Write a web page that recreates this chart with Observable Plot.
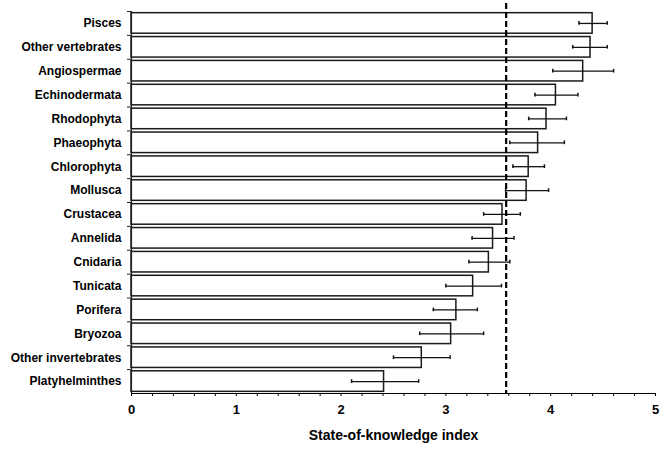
<!DOCTYPE html>
<html>
<head>
<meta charset="utf-8">
<script src="https://cdn.jsdelivr.net/npm/d3@7"></script>
<script src="https://cdn.jsdelivr.net/npm/@observablehq/plot@0.6"></script>
<style>
  html, body { margin: 0; padding: 0; background: #fff; }
  #chart { width: 662px; height: 450px; }
</style>
</head>
<body>
<div id="chart"></div>
<script>
const taxa = ["Pisces", "Other vertebrates", "Angiospermae", "Echinodermata", "Rhodophyta", "Phaeophyta", "Chlorophyta", "Mollusca", "Crustacea", "Annelida", "Cnidaria", "Tunicata", "Porifera", "Bryozoa", "Other invertebrates", "Platyhelminthes"];
const indexValue = [4.40, 4.38, 4.31, 4.05, 3.96, 3.88, 3.79, 3.77, 3.54, 3.45, 3.41, 3.26, 3.10, 3.05, 2.77, 2.41];
const lowerErr = [4.27, 4.21, 4.02, 3.85, 3.79, 3.61, 3.64, 3.57, 3.36, 3.25, 3.22, 3.00, 2.88, 2.75, 2.50, 2.10];
const upperErr = [4.54, 4.54, 4.60, 4.26, 4.15, 4.13, 3.94, 3.98, 3.71, 3.65, 3.61, 3.53, 3.30, 3.36, 3.04, 2.74];
const xTicks = [0, 0.2, 0.4, 0.6, 0.8, 1, 1.2, 1.4, 1.6, 1.8, 2, 2.2, 2.4, 2.6, 2.8, 3, 3.2, 3.4, 3.6, 3.8, 4, 4.2, 4.4, 4.6, 4.8, 5];
const meanIndex = [3.575];
const xTitle = "State-of-knowledge index";

const data = taxa.map((t, i) => ({taxon: t, value: indexValue[i], lo: lowerErr[i], hi: upperErr[i]}));

const W = 662, H = 450, mT = 11, mB = 57, mL = 131, mR = 7;
const step = (H - mT - mB) / taxa.length;
const capInset = (step - 7) / 2;

const chart = Plot.plot({
  width: W,
  height: H,
  marginTop: mT,
  marginBottom: mB,
  marginLeft: mL,
  marginRight: mR,
  style: {fontFamily: "'Liberation Sans', Arial, sans-serif", fontSize: "12px", fontWeight: "bold", color: "#000", background: "#fff"},
  x: {domain: [0, 5], ticks: xTicks, tickSize: 3, tickPadding: 8, line: true,
      tickFormat: d => Number.isInteger(d) ? String(d) : "", label: null},
  y: {domain: taxa, paddingInner: 0.14, paddingOuter: 0.07, round: false, tickSize: 0, tickPadding: 10, label: null},
  marks: [
    Plot.barX(data, {y: "taxon", x: "value", fill: "white", stroke: "#1a1a1a", strokeWidth: 1.5}),
    Plot.ruleY(data, {y: "taxon", x1: "lo", x2: "hi", stroke: "#111", strokeWidth: 1.3}),
    Plot.tickX(data, {y: "taxon", x: "lo", stroke: "#111", strokeWidth: 1.5, insetTop: capInset, insetBottom: capInset}),
    Plot.tickX(data, {y: "taxon", x: "hi", stroke: "#111", strokeWidth: 1.5, insetTop: capInset, insetBottom: capInset}),
    Plot.ruleX(meanIndex, {stroke: "#000", strokeWidth: 2.2, strokeDasharray: "6,3", insetTop: -8}),
    Plot.ruleX([0], {stroke: "#222", strokeWidth: 1.2}),
    Plot.tickY(taxa, {y: d => d, dy: -step / 2, dx: -4, stroke: "#222", strokeWidth: 1, insetRight: W - mL - mR - 4}),
    Plot.text([xTitle], {frameAnchor: "bottom", dy: 46, fontSize: 14, fontWeight: "bold", fill: "#000"})
  ]
});
d3.select(chart).selectAll('g[aria-label="x-axis tick label"] text, g[aria-label="x-axis"] text').attr("font-size", "13px");
document.getElementById("chart").appendChild(chart);
</script>
</body>
</html>
